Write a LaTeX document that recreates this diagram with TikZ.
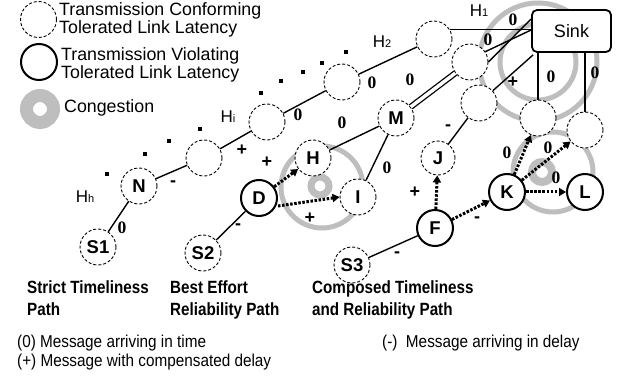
\documentclass[tikz,border=0pt]{standalone}
\usepackage{fontspec}
\setmainfont{Liberation Sans}
\newfontfamily\tnr{Liberation Serif}
\newfontfamily\condr[FakeStretch=0.89]{Liberation Sans}
\newfontfamily\condb[FakeStretch=0.86]{Liberation Sans}
\usetikzlibrary{arrows.meta,calc}
\definecolor{cong}{RGB}{190,190,190}
\begin{document}
\begin{tikzpicture}[x=1pt,y=-1pt,
  dn/.style={circle,draw,dash pattern=on 3pt off 2pt,line width=0.9pt,fill=white,minimum size=36pt,inner sep=0pt,font=\fontsize{18.5}{18.5}\selectfont\bfseries},
  sn/.style={dn,solid,line width=2pt},
  link/.style={line width=1.4pt},
  darr/.style={line width=3pt,dash pattern=on 2.5pt off 1.6pt,-{Triangle[length=7pt,width=8pt]}},
  ringst/.style={draw=cong,line width=5pt},
  zl/.style={font=\tnr\bfseries\fontsize{17.5}{17.5}\selectfont,inner sep=0pt},
  pl/.style={font=\bfseries\fontsize{18}{18}\selectfont,inner sep=0pt},
  hl/.style={font=\fontsize{17}{17}\selectfont,inner sep=0pt},
  legt/.style={font=\fontsize{17.8}{16}\selectfont,inner sep=0pt,anchor=base west,align=left},
  capt/.style={font=\condb\bfseries\fontsize{17.7}{21.7}\selectfont,inner sep=0pt,anchor=base west,align=left},
  notet/.style={font=\condr\fontsize{17.2}{19.4}\selectfont,inner sep=0pt,anchor=base west,align=left},
  sqdot/.style={fill=black}
]
\useasboundingbox (0,0) rectangle (619,377);

% congestion rings
\draw[ringst] (538,62) circle[radius=38pt];
\draw[ringst] (538,62) circle[radius=59pt];
\draw[ringst] (322,187) circle[radius=41pt];
\draw[ringst,line width=7pt] (320,186) circle[radius=9pt];
\draw[ringst] (553,172) circle[radius=40pt];
\draw[ringst,line width=8pt] (542,172) circle[radius=10pt];
\draw[ringst,line width=13pt] (40,109) circle[radius=13.5pt];

% legend
\node[dn] (lg1) at (38.5,19.5) {};
\node[sn] (lg2) at (39,62) {};
\node[legt] (lt1) at (59,33.3) {Transmission Conforming\\Tolerated Link Latency};
\node[legt] (lt2) at (61,78.3) {Transmission Violating\\Tolerated Link Latency};
\node[legt] (lt5) at (64,113) {Congestion};

% dots
\foreach \p in {(107,174),(145,154),(169,141),(200,129),(261,93),(281,81),(303,72),(322,63),(346,52)}
  \fill[sqdot] \p ++(-1.6,-1.6) rectangle ++(3.2,3.2);

% sink
\node[draw,rounded corners=5pt,line width=1.8pt,fill=white,minimum width=79pt,minimum height=42pt,font=\fontsize{18}{18}\selectfont] (Sink) at (571.5,31) {Sink};

% strict path
\node[dn] (S1) at (98,247) {S1};
\node[dn] (N) at (139,186) {N};
\node[dn] (P1) at (204,158) {};
\node[dn] (P2) at (267,122) {};
\node[dn] (P3) at (342,82) {};
\node[dn] (P4) at (434,39) {};

% best effort
\node[dn] (S2) at (203,253) {S2};
\node[sn] (D) at (259,198) {D};
\node[dn] (H) at (313,158) {H};
\node[dn] (I) at (358,197) {I};
\node[dn] (M) at (396,118) {M};
\node[dn] (B) at (470,62) {};

% composed
\node[dn] (S3) at (352,265) {S3};
\node[sn] (F) at (435,228) {F};
\node[dn,minimum size=34pt] (J) at (438,158) {J};
\node[dn] (C3) at (479,103) {};
\node[sn] (K) at (507,192) {K};
\node[sn] (L) at (585,192) {L};
\node[dn] (C1) at (538,118) {};
\node[dn] (C2) at (585,130) {};

% links strict
\draw[link] (S1) -- (N);
\draw[link] (N) -- (P1);
\draw[link] (P1) -- (P2);
\draw[link] (P2) -- (P3);
\draw[link] (P3) -- (P4);
\draw[link] (P4.30) -- (P4.30 -| Sink.west);

% links best effort
\draw[link] (S2) -- (D);
\draw[darr] (D) -- (H);
\draw[darr] (D.east) ++(0,8) coordinate (dI) (dI) -- (I.west);
\draw[link] (H) -- (M);
\draw[link] (I) -- (M);
\draw[line width=1.3pt,double,double distance=3.5pt] (M) -- (B);
\draw[link] (B.34) -- ([yshift=1]Sink.west);
\draw[link] (B.0) -- ([yshift=12]Sink.west);

% links composed
\draw[link] (S3) -- (F);
\draw[darr] (F) -- (J);
\draw[link] (J) -- (C3);
\draw[link] (C3) -- ([xshift=2,yshift=-2]Sink.south west);
\draw[darr] (F) -- (K);
\draw[darr] (K) -- (C1);
\draw[darr] (K) -- (C2);
\draw[darr] (K) -- (L);
\draw[link] (C1.north) -- (C1.north |- Sink.south);
\draw[link] (C2.north) -- (C2.north |- Sink.south);

% edge labels
\node[zl] (e1) at (122,228) {0};
\node[pl] (e2) at (173,184) {-};
\node[pl] (e3) at (242,150) {+};
\node[zl] (e4) at (298,115) {0};
\node[zl] (e5) at (372,83) {0};
\node[zl] (e6) at (513,20) {0};
\node[pl] (e7) at (238,227) {-};
\node[pl] (e8) at (267,162) {+};
\node[pl] (e9) at (310,218) {+};
\node[zl] (e10) at (342,123) {0};
\node[zl] (e11) at (387,168) {0};
\node[zl] (e12) at (410,80) {0};
\node[zl] (e13) at (488,40) {0};
\node[pl] (e14) at (397,255) {-};
\node[pl] (e15) at (415,192) {+};
\node[pl] (e16) at (448,128) {-};
\node[pl] (e17) at (513,82) {+};
\node[pl] (e18) at (477,220) {-};
\node[zl] (e19) at (507,153) {0};
\node[zl] (e20) at (548,148) {0};
\node[zl] (e21) at (556,178) {0};
\node[zl] (e22) at (551,77) {0};
\node[zl] (e23) at (595,73) {0};

% hop labels
\node[hl] (hh) at (85,197) {H{\fontsize{11}{11}\selectfont h}};
\node[hl] (hi) at (228,117) {H{\fontsize{11}{11}\selectfont i}};
\node[hl] (h2) at (382,42) {H{\fontsize{11}{11}\selectfont 2}};
\node[hl] (h1) at (479,11) {H{\fontsize{11}{11}\selectfont 1}};

% captions
\node[capt] (c1) at (27,315) {Strict Timeliness\\Path};
\node[capt] (c2) at (170,315) {Best Effort\\Reliability Path};
\node[capt] (c3) at (312,315) {Composed Timeliness\\and Reliability Path};
\node[notet] (n1) at (17,366.7) {(0) Message arriving in time\\(+) Message with compensated delay};
\node[notet] (n3) at (382,347) {(-)\ \ Message arriving in delay};
\end{tikzpicture}
\end{document}
